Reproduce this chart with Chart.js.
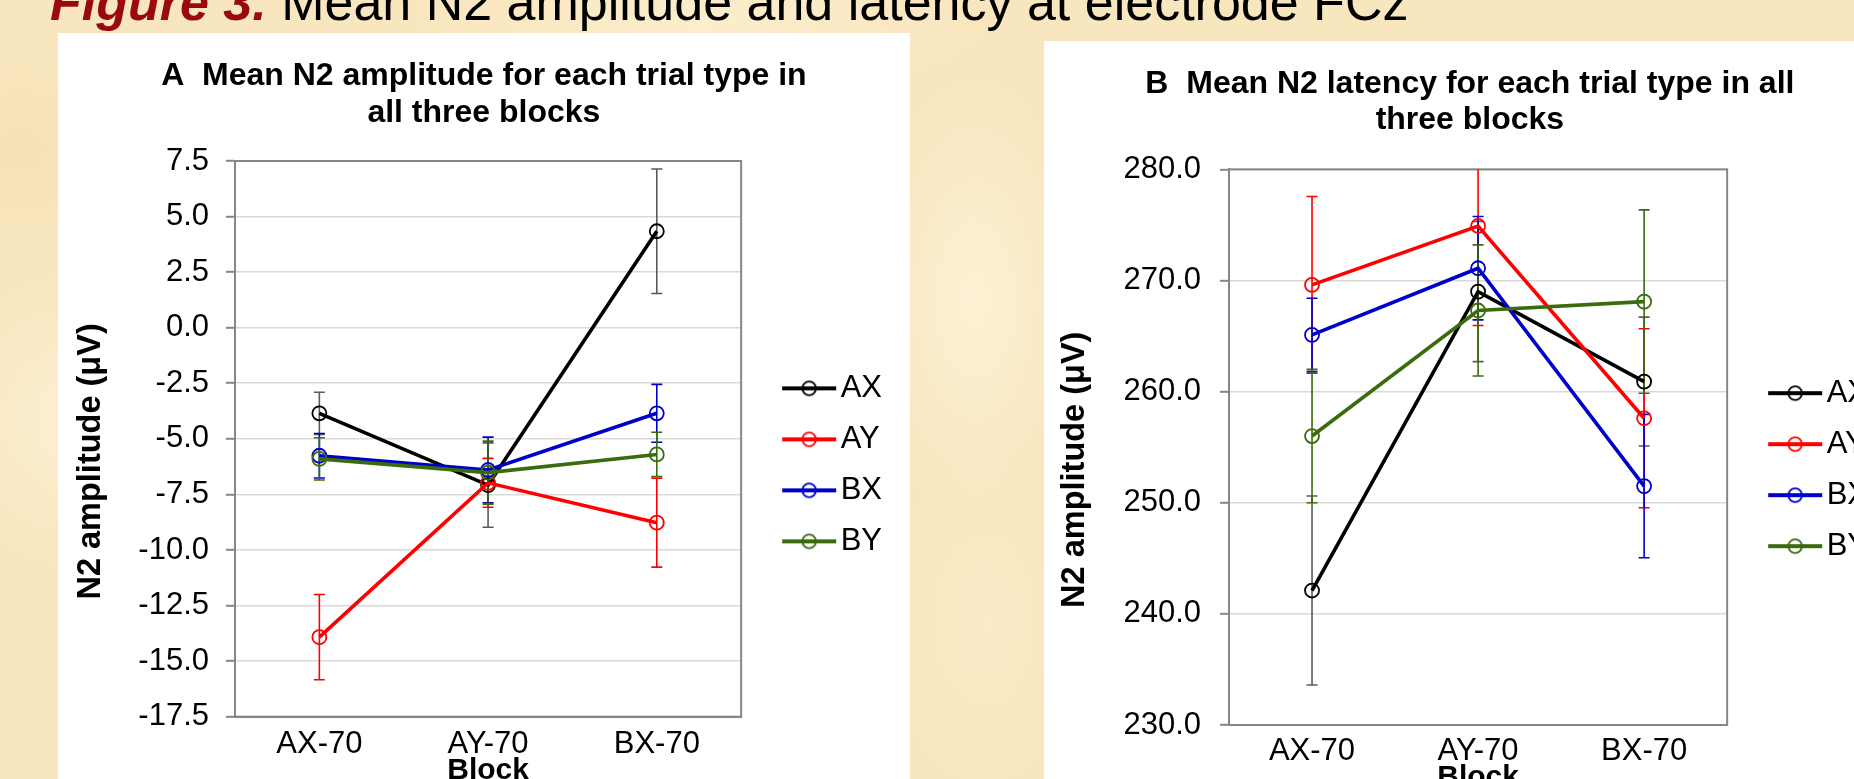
<!DOCTYPE html>
<html>
<head>
<meta charset="utf-8">
<script src="https://cdn.jsdelivr.net/npm/chart.js@4.4.1/dist/chart.umd.min.js"></script>
<style>
html, body { margin: 0; padding: 0; width: 1854px; height: 779px; overflow: hidden; }
body {
  position: relative;
  font-family: 'Liberation Sans', Arial, sans-serif;
  background-color: #f8e6be;
  background-image:
    radial-gradient(ellipse 300px 220px at 120px 420px, rgba(255,246,224,0.7), rgba(255,246,224,0) 70%),
    radial-gradient(ellipse 160px 320px at 975px 300px, rgba(255,245,222,0.7), rgba(255,245,222,0) 70%),
    radial-gradient(ellipse 140px 240px at 985px 620px, rgba(252,238,205,0.6), rgba(252,238,205,0) 70%),
    radial-gradient(ellipse 420px 110px at 700px 20px, rgba(255,242,214,0.6), rgba(255,242,214,0) 70%),
    radial-gradient(ellipse 160px 140px at 20px 150px, rgba(242,218,172,0.45), rgba(242,218,172,0) 70%);
}
#title {
  position: absolute; left: 50px; top: -24px;
  font-size: 52px; line-height: 1; white-space: nowrap; color: #000;
}
#title b { color: #9b0a0a; font-style: italic; }
canvas { position: absolute; background: #ffffff; }
#cA { left: 58px; top: 33px; }
#cB { left: 1044px; top: 41px; }
</style>
</head>
<body>
<div id="title"><b>Figure 3.</b> Mean N2 amplitude and latency at electrode FCz</div>
<canvas id="cA" width="852" height="800"></canvas>
<canvas id="cB" width="850" height="800"></canvas>
<script>
// ---------- data ----------
const categories = ['AX-70', 'AY-70', 'BX-70'];
const seriesNames = ['AX', 'AY', 'BX', 'BY'];

// Panel A: mean N2 amplitude (µV) and error bars
const ampAX = [-3.85, -7.08, 4.34];
const ampAY = [-13.92, -6.98, -8.77];
const ampBX = [-5.76, -6.40, -3.85];
const ampBY = [-5.90, -6.52, -5.70];
const ampErrAX = [0.95, 1.90, 2.80];
const ampErrAY = [1.92, 1.10, 2.00];
const ampErrBX = [1.00, 1.48, 1.30];
const ampErrBY = [0.95, 1.42, 1.00];
const ampTicks = [-17.5, -15.0, -12.5, -10.0, -7.5, -5.0, -2.5, 0.0, 2.5, 5.0, 7.5];

// Panel B: mean N2 latency and error bars
const latAX = [242.1, 269.0, 260.9];
const latAY = [269.6, 274.9, 257.6];
const latBX = [265.1, 271.1, 251.5];
const latBY = [256.0, 267.3, 268.1];
const latErrAX = [8.5, 6.3, 5.8];
const latErrAY = [7.95, 8.95, 8.05];
const latErrBX = [3.3, 4.65, 6.45];
const latErrBY = [6.0, 5.9, 8.25];
const latTicks = [230, 240, 250, 260, 270, 280];

// ---------- styles ----------
const seriesColors = ['#000000', '#ff0000', '#0000cc', '#3a6b0c'];
const errorColors = ['#595959', '#ff0000', '#0000cc', '#3a6b0c'];
const FONT = "'Liberation Sans', Arial, sans-serif";
const NB = '\u00a0';
Chart.defaults.font.family = FONT;
Chart.defaults.color = '#000';

function legendImage(color) {
  const c = document.createElement('canvas');
  c.width = 110; c.height = 20;
  const g = c.getContext('2d');
  g.strokeStyle = color;
  g.lineWidth = 4;
  g.beginPath(); g.moveTo(44, 10); g.lineTo(98, 10); g.stroke();
  g.lineWidth = 1.8;
  g.beginPath(); g.arc(71, 10, 6.8, 0, Math.PI * 2); g.stroke();
  return c;
}
const legendImgs = seriesColors.map(legendImage);

const errorBars = {
  id: 'errorBars',
  beforeDatasetsDraw(chart) {
    const { ctx, chartArea: a, scales: { x, y } } = chart;
    ctx.save();
    ctx.strokeStyle = '#868686';
    ctx.lineWidth = 2;
    ctx.strokeRect(a.left, a.top, a.right - a.left, a.bottom - a.top);
    ctx.beginPath();
    ctx.rect(a.left, a.top, a.right - a.left, a.bottom - a.top);
    ctx.clip();
    chart.data.datasets.forEach((ds) => {
      ctx.strokeStyle = ds.errorColor;
      ctx.lineWidth = 1.6;
      ds.data.forEach((v, j) => {
        const px = x.getPixelForValue(j);
        const yt = y.getPixelForValue(v + ds.errors[j]);
        const yb = y.getPixelForValue(v - ds.errors[j]);
        ctx.beginPath();
        ctx.moveTo(px, yt); ctx.lineTo(px, yb);
        ctx.moveTo(px - 5.5, yt); ctx.lineTo(px + 5.5, yt);
        ctx.moveTo(px - 5.5, yb); ctx.lineTo(px + 5.5, yb);
        ctx.stroke();
      });
    });
    ctx.restore();
  }
};

function buildChart(id, o) {
  const datasets = o.means.map((m, i) => ({
    label: seriesNames[i],
    data: m,
    errors: o.errs[i],
    errorColor: errorColors[i],
    borderColor: seriesColors[i],
    backgroundColor: seriesColors[i],
    borderWidth: 3.6,
    pointRadius: 7,
    pointBorderWidth: 1.8,
    pointBorderColor: seriesColors[i],
    pointBackgroundColor: 'rgba(0,0,0,0)',
    pointStyle: 'circle',
    tension: 0,
    order: 4 - i
  }));
  return new Chart(document.getElementById(id), {
    type: 'line',
    data: { labels: categories, datasets },
    plugins: [errorBars],
    options: {
      responsive: false,
      animation: false,
      devicePixelRatio: 1,
      layout: { padding: { left: 0, right: o.padRight, top: 0, bottom: 0 } },
      plugins: {
        tooltip: { enabled: false },
        title: {
          display: true,
          text: o.title.map((t) => NB + NB + t),
          font: { size: 32, weight: 'bold', lineHeight: o.titleLH },
          padding: o.titlePad,
          color: '#000'
        },
        legend: {
          display: true,
          position: 'right',
          fullSize: false,
          align: 'center',
          title: { display: true, text: ' ', font: { size: 1, lineHeight: 1 }, padding: { top: o.legendShift, bottom: 0 } },
          labels: {
            usePointStyle: true,
            pointStyleWidth: 64,
            boxHeight: 31,
            padding: 20,
            color: '#000',
            font: { size: 31 },
            sort: (a, b) => a.datasetIndex - b.datasetIndex,
            generateLabels: (chart) => {
              const items = Chart.defaults.plugins.legend.labels.generateLabels(chart);
              items.forEach((it) => { it.pointStyle = legendImgs[it.datasetIndex]; });
              return items;
            }
          }
        }
      },
      scales: {
        x: {
          offset: true,
          grid: { display: false, drawTicks: false },
          border: { display: true, color: '#868686', width: 2 },
          ticks: { font: { size: 31 }, padding: o.xPad, color: '#000' },
          title: { display: true, text: 'Block', font: { size: 30, weight: 'bold', lineHeight: 1.2 }, padding: { top: 0, bottom: o.blockPad }, color: '#000' },
          afterFit: (s) => { s.height = o.xHeight; }
        },
        y: {
          min: o.ticks[0],
          max: o.ticks[o.ticks.length - 1],
          afterBuildTicks: (s) => { s.ticks = o.ticks.map((v) => ({ value: v })); },
          grid: { color: '#d9d9d9', lineWidth: 1.6, tickLength: 9, tickColor: '#868686', tickWidth: 2 },
          border: { display: true, color: '#868686', width: 2 },
          ticks: { font: { size: 31 }, padding: o.yPad, color: '#000', callback: (v) => Number(v).toFixed(1) },
          title: {
            display: true,
            text: 'N2 amplitude (\u03bcV)' + NB + NB + NB + NB + NB,
            font: { size: 32.5, weight: 'bold', lineHeight: 1.2 },
            padding: { top: o.yTitlePad, bottom: 0 },
            color: '#000'
          },
          afterFit: (s) => { s.width = o.yWidth; }
        }
      }
    }
  });
}

buildChart('cA', {
  means: [ampAX, ampAY, ampBX, ampBY],
  errs: [ampErrAX, ampErrAY, ampErrBX, ampErrBY],
  ticks: ampTicks,
  title: ['A  Mean N2 amplitude for each trial type in', 'all three blocks'],
  titleLH: 1.18,
  titlePad: { top: 24, bottom: 28.5 },
  padRight: 18,
  legendShift: 51,
  yWidth: 177,
  xHeight: 116.3,
  xPad: 9,
  blockPad: 44,
  yPad: 17,
  yTitlePad: 14
});

buildChart('cB', {
  means: [latAX, latAY, latBX, latBY],
  errs: [latErrAX, latErrAY, latErrBX, latErrBY],
  ticks: latTicks,
  title: ['B  Mean N2 latency for each trial type in all', 'three blocks'],
  titleLH: 1.11,
  titlePad: { top: 25.5, bottom: 31.8 },
  padRight: 16,
  legendShift: 44,
  yWidth: 185,
  xHeight: 116,
  xPad: 8,
  blockPad: 45,
  yPad: 19,
  yTitlePad: 12
});
</script>
</body>
</html>
